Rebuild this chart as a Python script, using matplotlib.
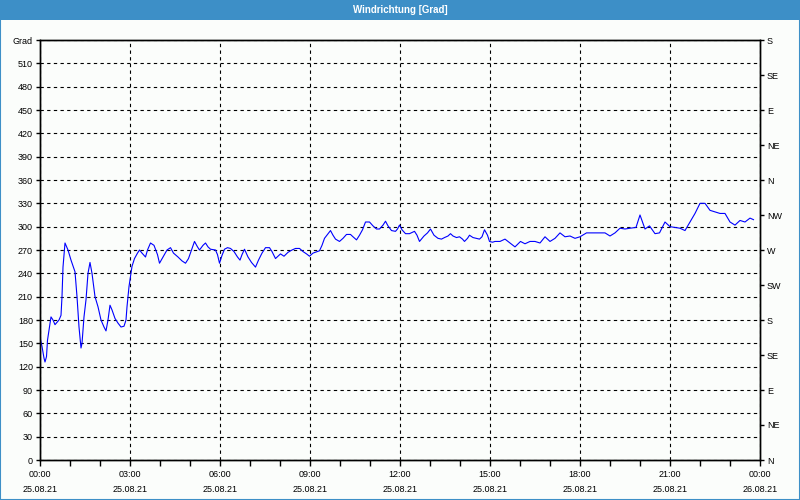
import matplotlib.pyplot as plt
from matplotlib.patches import Rectangle

# Wind direction, minutes after 25.08.21 00:00 -> degrees
minutes = [0, 4, 8, 10, 13, 15, 19, 22, 26, 30, 38, 42, 44, 46, 50, 56, 62, 70,
           74, 78, 82, 84, 88, 92, 96, 100, 104, 110, 116, 122, 128, 132, 136,
           140, 144, 150, 156, 162, 168, 172, 174, 178, 181, 184, 189, 195, 199,
           204, 211, 215, 221, 228, 235, 239, 246, 254, 261, 267, 276, 284, 291,
           297, 304, 309, 315, 319, 326, 331, 336, 341, 351, 355, 359, 364, 369,
           375, 381, 388, 395, 400, 404, 409, 416, 423, 431, 437, 444, 451, 459,
           464, 471, 476, 481, 488, 496, 504, 511, 519, 526, 533, 539, 546, 559,
           564, 569, 575, 581, 586, 591, 599, 606, 613, 621, 626, 633, 639, 645,
           651, 659, 666, 673, 679, 686, 691, 696, 703, 711, 715, 719, 724, 731,
           739, 749, 754, 759, 768, 775, 781, 788, 796, 803, 809, 816, 821, 826,
           833, 839, 845, 849, 855, 859, 866, 873, 879, 884, 889, 895, 899, 905,
           910, 920, 930, 940, 950, 961, 970, 980, 990, 1000, 1010, 1020, 1030,
           1040, 1050, 1060, 1070, 1080, 1093, 1107, 1130, 1140, 1150, 1160, 1170,
           1180, 1192, 1200, 1210, 1219, 1230, 1239, 1250, 1260, 1270, 1280, 1290,
           1300, 1310, 1320, 1330, 1340, 1350, 1360, 1370, 1380, 1390, 1400, 1410,
           1420, 1427]
direction = [158, 146, 131, 126, 133, 154, 171, 184, 180, 174, 180, 186, 210, 248,
             279, 270, 257, 242, 210, 171, 144, 150, 184, 206, 240, 254, 240, 210,
             197, 180, 171, 166, 180, 199, 193, 182, 176, 171, 172, 180, 197, 223,
             236, 249, 259, 266, 270, 266, 261, 270, 279, 276, 264, 253, 261, 270,
             273, 266, 261, 256, 253, 259, 272, 281, 274, 270, 276, 279, 274, 271,
             270, 264, 253, 263, 271, 273, 272, 268, 261, 257, 264, 271, 261, 254,
             248, 257, 266, 273, 273, 268, 259, 262, 265, 262, 267, 270, 272, 272,
             268, 265, 262, 266, 269, 276, 285, 290, 295, 289, 284, 281, 285, 290,
             290, 287, 283, 289, 296, 306, 306, 301, 297, 297, 302, 307, 301, 295,
             294, 297, 302, 296, 291, 291, 294, 289, 281, 288, 292, 297, 289, 285,
             284, 286, 288, 291, 288, 286, 287, 284, 281, 285, 289, 286, 285, 284,
             287, 296, 289, 281, 280, 281, 281, 284, 279, 274, 281, 278, 281, 281,
             279, 287, 281, 285, 292, 287, 288, 285, 287, 292, 292, 292, 288, 292,
             298, 297, 298, 299, 315, 297, 301, 291, 292, 306, 300, 299, 298, 295,
             306, 317, 330, 330, 321, 319, 317, 317, 306, 302, 308, 306, 311, 309]

hour_ticks = list(range(0, 1441, 180))
hour_labels = ['00:00\n25.08.21', '03:00\n25.08.21', '06:00\n25.08.21',
               '09:00\n25.08.21', '12:00\n25.08.21', '15:00\n25.08.21',
               '18:00\n25.08.21', '21:00\n25.08.21', '00:00\n26.08.21']
grad_ticks = list(range(0, 541, 30))
grad_labels = [str(v) for v in range(0, 511, 30)] + ['Grad']
compass_ticks = list(range(0, 541, 45))
compass_labels = ['N', 'NE', 'E', 'SE', 'S', 'SW', 'W', 'NW', 'N', 'NE', 'E', 'SE', 'S']

plt.rcParams['font.family'] = ['Liberation Sans', 'DejaVu Sans']

fig = plt.figure(figsize=(8, 5), dpi=100, facecolor='#fbfdfb')

# window title bar and frame
fig.patches.append(Rectangle((0, 0.96), 1, 0.04, transform=fig.transFigure,
                             facecolor='#3d8fc7', edgecolor='none'))
fig.patches.append(Rectangle((0.0006, 0.001), 0.9988, 0.998, transform=fig.transFigure,
                             facecolor='none', edgecolor='#3d8fc7', linewidth=1.5))
fig.text(0.5, 0.98, 'Windrichtung [Grad]', color='white', fontsize=7,
         fontweight='bold', ha='center', va='center')

ax = fig.add_axes([0.05, 0.08, 0.90, 0.84])
ax.set_facecolor('#fbfdfb')
ax.plot(minutes, direction, color='#0000ff', linewidth=0.8)

ax.set_xlim(0, 1440)
ax.set_ylim(0, 540)
ax.set_xticks(hour_ticks)
ax.set_xticklabels(hour_labels, fontsize=6.5, linespacing=1.95)
ax.set_xticks(range(0, 1441, 60), minor=True)
ax.set_yticks(grad_ticks)
ax.set_yticklabels(grad_labels, fontsize=6.5)
ax.tick_params(axis='x', which='both', length=4, width=1, direction='out', pad=3)
ax.tick_params(axis='y', length=3, width=1, direction='out', pad=2)

ax.grid(True, axis='both', which='major', color='black', linestyle=(0, (3, 3)),
        linewidth=0.8)
for s in ax.spines.values():
    s.set_linewidth(1.0)
    s.set_color('black')

ax2 = ax.twinx()
ax2.set_ylim(0, 540)
ax2.set_yticks(compass_ticks)
ax2.set_yticklabels(compass_labels, fontsize=6.5)
ax2.tick_params(axis='y', length=3, width=1, direction='out', pad=2)
for s in ax2.spines.values():
    s.set_linewidth(1.0)

fig.savefig('out.png', dpi=100, facecolor=fig.get_facecolor())
